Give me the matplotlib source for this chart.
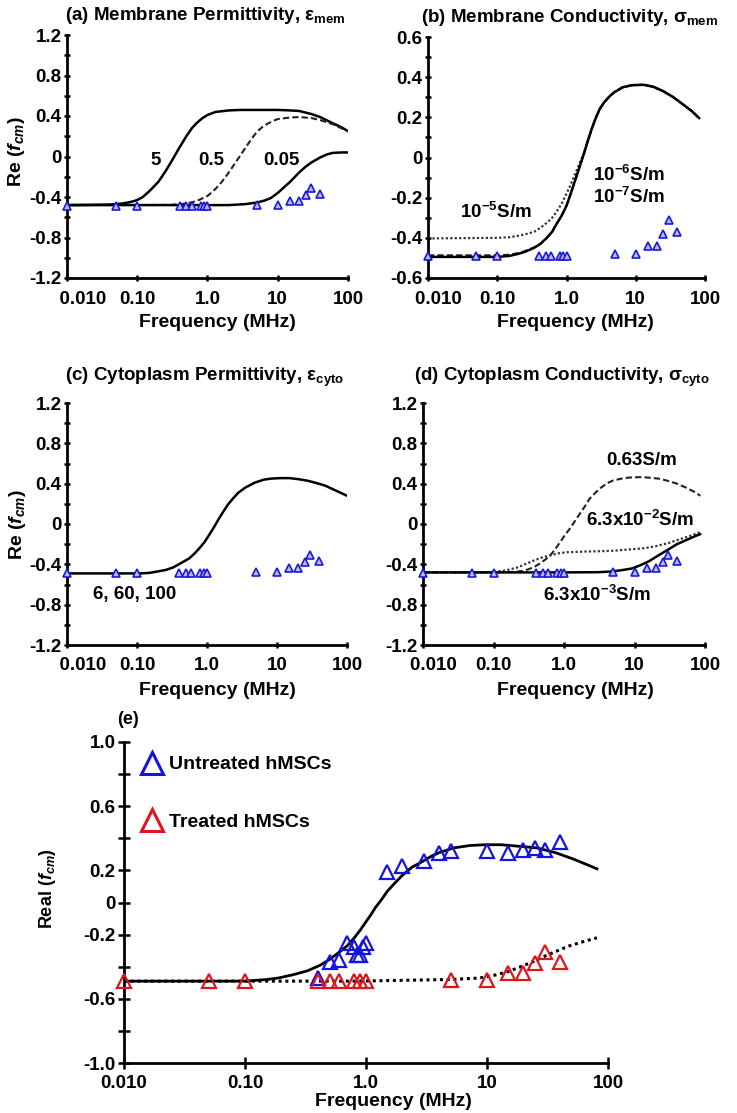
import matplotlib
matplotlib.use("Agg")
import matplotlib.pyplot as plt
from matplotlib.ticker import FixedLocator, FixedFormatter, NullLocator
from matplotlib.lines import Line2D

plt.rcParams['font.family'] = ['Liberation Sans', 'DejaVu Sans']
plt.rcParams['font.weight'] = 'bold'
plt.rcParams['mathtext.fontset'] = 'custom'
plt.rcParams['mathtext.rm'] = 'Liberation Sans:bold'
plt.rcParams['mathtext.it'] = 'Liberation Sans:italic:bold'
plt.rcParams['mathtext.bf'] = 'Liberation Sans:bold'
plt.rcParams['mathtext.default'] = 'rm'

# ---------------- data ----------------
# measured Re(fcm) (frequency in MHz)
freq_treated = [0.01, 0.05, 0.1, 0.4, 0.5, 0.6, 0.8, 0.9, 1.0, 5, 10, 15, 20, 25, 30, 40]
re_treated = [-0.49, -0.49, -0.49, -0.49, -0.49, -0.49, -0.49, -0.49, -0.49,
              -0.48, -0.48, -0.44, -0.44, -0.38, -0.31, -0.37]
freq_untreated = [0.4, 0.5, 0.6, 0.7, 0.8, 0.85, 0.9, 0.95, 1.0, 1.5, 2, 3, 4, 5,
                  10, 15, 20, 25, 30, 40]
re_untreated = [-0.47, -0.37, -0.36, -0.25, -0.28, -0.33, -0.33, -0.28, -0.25, 0.19,
                0.23, 0.26, 0.31, 0.32, 0.32, 0.31, 0.33, 0.34, 0.33, 0.375]

# (a) membrane permittivity model curves
fa_5 = [0.01, 0.04, 0.06, 0.08, 0.1, 0.12, 0.15, 0.2, 0.25, 0.3, 0.35, 0.4, 0.5, 0.6,
        0.7, 0.85, 1.0, 1.3, 2, 3, 10, 15, 20, 30, 40, 60, 80, 100]
ya_5 = [-0.48, -0.475, -0.465, -0.45, -0.43, -0.40, -0.34, -0.25, -0.15, -0.06, 0.02,
        0.09, 0.20, 0.28, 0.33, 0.38, 0.41, 0.44, 0.455, 0.46, 0.46, 0.455, 0.45, 0.42,
        0.39, 0.33, 0.29, 0.25]
fa_05 = [0.01, 0.3, 0.5, 0.7, 1.0, 1.3, 1.6, 2.0, 2.5, 3.0, 3.5, 4.2, 5, 6, 7, 8.5, 10,
         15, 20, 30, 40, 60, 80, 100]
ya_05 = [-0.48, -0.478, -0.465, -0.44, -0.39, -0.32, -0.25, -0.16, -0.06, 0.02, 0.09,
         0.17, 0.24, 0.29, 0.32, 0.35, 0.37, 0.385, 0.39, 0.38, 0.36, 0.32, 0.28, 0.25]
fa_005 = [0.01, 2, 3.5, 5, 6.5, 8, 10, 12, 15, 20, 25, 30, 40, 50, 60, 80, 100]
ya_005 = [-0.48, -0.48, -0.47, -0.455, -0.435, -0.41, -0.36, -0.31, -0.25, -0.16, -0.10,
          -0.06, -0.01, 0.02, 0.035, 0.04, 0.04]

# (b) membrane conductivity model curves
fb = [0.01, 0.1, 0.15, 0.2, 0.25, 0.34, 0.42, 0.52, 0.62, 0.72, 0.85, 1.0, 1.15, 1.3,
      1.5, 1.75, 2.0, 2.3, 2.6, 3.0, 3.5, 4.2, 4.9, 6.5, 8.8, 13, 18, 25, 35, 50, 65, 83]
yb_7 = [-0.495, -0.495, -0.49, -0.48, -0.47, -0.45, -0.43, -0.40, -0.37, -0.33, -0.29,
        -0.24, -0.18, -0.125, -0.06, 0.01, 0.075, 0.14, 0.19, 0.24, 0.275, 0.305, 0.325,
        0.35, 0.36, 0.362, 0.352, 0.33, 0.30, 0.26, 0.23, 0.195]
yb_6 = [-0.487, -0.487, -0.484, -0.476, -0.466, -0.448, -0.43, -0.40, -0.37, -0.33, -0.29,
        -0.24, -0.18, -0.125, -0.06, 0.01, 0.075, 0.14, 0.19, 0.24, 0.275, 0.305, 0.325,
        0.35, 0.36, 0.362, 0.352, 0.33, 0.30, 0.26, 0.23, 0.195]
yb_5 = [-0.403, -0.40, -0.397, -0.39, -0.383, -0.37, -0.35, -0.325, -0.30, -0.27, -0.23,
        -0.18, -0.135, -0.09, -0.04, 0.015, 0.078, 0.14, 0.19, 0.24, 0.275, 0.305, 0.325,
        0.35, 0.36, 0.362, 0.352, 0.33, 0.30, 0.26, 0.23, 0.195]

# (c) cytoplasm permittivity model curve (6, 60, 100 overlap)
fc = [0.01, 0.11, 0.15, 0.2, 0.26, 0.33, 0.42, 0.56, 0.67, 0.78, 0.92, 1.07, 1.25, 1.47,
      1.7, 2.0, 2.4, 2.8, 3.5, 4.8, 6.5, 8.2, 11, 15, 20, 27, 35, 49, 70, 100]
yc = [-0.49, -0.49, -0.485, -0.47, -0.455, -0.43, -0.39, -0.34, -0.29, -0.24, -0.18,
      -0.11, -0.035, 0.05, 0.12, 0.195, 0.26, 0.31, 0.36, 0.41, 0.44, 0.45, 0.455, 0.455,
      0.445, 0.43, 0.41, 0.38, 0.33, 0.28]

# (d) cytoplasm conductivity model curves
fd_063 = [0.01, 0.1, 0.2, 0.26, 0.31, 0.38, 0.46, 0.55, 0.64, 0.75, 0.88, 1.03, 1.2, 1.4,
          1.67, 2.0, 2.3, 2.7, 3.2, 4.0, 4.9, 6.5, 8.2, 12, 16, 22, 29, 40, 54, 70, 86]
yd_063 = [-0.48, -0.48, -0.475, -0.465, -0.45, -0.425, -0.39, -0.35, -0.31, -0.25, -0.18,
          -0.11, -0.05, 0.02, 0.10, 0.18, 0.25, 0.30, 0.35, 0.40, 0.43, 0.45, 0.46, 0.465,
          0.46, 0.45, 0.43, 0.40, 0.36, 0.32, 0.28]
fd_0063 = [0.01, 0.05, 0.1, 0.15, 0.22, 0.3, 0.38, 0.5, 0.64, 0.85, 1.1, 2, 3.2, 5, 9.3,
           14, 20, 30, 40, 60, 86]
yd_0063 = [-0.48, -0.48, -0.477, -0.46, -0.43, -0.39, -0.36, -0.33, -0.31, -0.29, -0.28,
           -0.273, -0.27, -0.265, -0.25, -0.24, -0.22, -0.19, -0.16, -0.12, -0.08]
fd_00063 = [0.01, 1, 3, 4.5, 5.5, 7, 9.3, 12, 16, 22, 29, 40, 54, 70, 86]
yd_00063 = [-0.48, -0.48, -0.478, -0.472, -0.465, -0.455, -0.44, -0.41, -0.37, -0.31,
            -0.26, -0.20, -0.16, -0.125, -0.10]

# (e) fitted curves
fe_un = [0.01, 0.1, 0.15, 0.19, 0.25, 0.33, 0.42, 0.5, 0.6, 0.7, 0.8, 0.9, 1.0, 1.1, 1.2,
         1.35, 1.5, 1.75, 2.0, 2.4, 3.0, 3.5, 4.0, 5.3, 7.2, 9.7, 13, 18.6, 26, 37, 52, 65, 81]
ye_un = [-0.49, -0.49, -0.48, -0.47, -0.45, -0.425, -0.39, -0.355, -0.31, -0.27, -0.22,
         -0.17, -0.12, -0.075, -0.03, 0.02, 0.07, 0.125, 0.17, 0.22, 0.26, 0.29, 0.31,
         0.34, 0.355, 0.36, 0.36, 0.35, 0.34, 0.31, 0.27, 0.24, 0.21]
fe_tr = [0.01, 0.8, 4.8, 8, 9.7, 12, 15, 19, 23, 32, 48, 65, 81]
ye_tr = [-0.49, -0.49, -0.48, -0.472, -0.465, -0.45, -0.43, -0.40, -0.375, -0.325, -0.27,
         -0.24, -0.22]

x_ticks = [0.01, 0.1, 1, 10, 100]

# ---------------- figure ----------------
W, H = 737, 1113
fig = plt.figure(figsize=(W / 100, H / 100), dpi=100)


def rect(x0, x1, y_top, y_bot):
    return [x0 / W, 1 - y_bot / H, (x1 - x0) / W, (y_bot - y_top) / H]


def style(ax, ylim, yticks, ylabels, yminor, first_pad, ticklen=4):
    ax.set_xscale('log')
    ax.set_xlim(0.01, 100)
    ax.set_ylim(*ylim)
    for s in ['top', 'right']:
        ax.spines[s].set_visible(False)
    for s in ['left', 'bottom']:
        ax.spines[s].set_linewidth(2.0)
    ax.xaxis.set_major_locator(FixedLocator(x_ticks))
    xl = [' ' * first_pad + '0.010', '0.10', '1.0', '10', '100']
    ax.xaxis.set_major_formatter(FixedFormatter(xl))
    ax.xaxis.set_minor_locator(NullLocator())
    ax.yaxis.set_major_locator(FixedLocator(yticks))
    ax.yaxis.set_major_formatter(FixedFormatter(ylabels))
    ax.yaxis.set_minor_locator(FixedLocator(yminor))
    ax.tick_params(axis='both', which='both', direction='inout', length=ticklen,
                   width=1.8, labelsize=13.5)
    ax.tick_params(axis='x', pad=7)
    ax.tick_params(axis='y', pad=2)
    ax.patch.set_visible(False)


def frequency_label(ax, x, y):
    ax.set_xlabel('Frequency (MHz)', fontsize=14, fontweight='bold')
    ax.xaxis.set_label_coords(x, y)
    ax.xaxis.label.set_va('center')


def re_label(ax, text, x, y, size=14):
    ax.set_ylabel(text, fontsize=size, fontweight='bold')
    ax.yaxis.set_label_coords(x, y)
    ax.yaxis.label.set_va('center')


def small_markers(ax):
    ax.plot(freq_treated, re_treated, ls='none', marker='^', ms=5.5, mec='#1a1ad6',
            mfc='#b8b8ff', mew=1.2, clip_on=False, zorder=5)


solid = dict(color='black', lw=1.8, solid_capstyle='round')
dashed = dict(color='#222222', lw=1.5, ls=(0, (3, 1.5)))
dotted = dict(color='#333333', lw=1.6, ls=(0, (1, 1)))

big_y = [-1.2, -0.8, -0.4, 0, 0.4, 0.8, 1.2]
big_yl = ['-1.2', '-0.8', '-0.4', '0', '0.4', '0.8', '1.2']
big_minor = [-1.0, -0.6, -0.2, 0.2, 0.6, 1.0]

# (a)
axa = fig.add_axes(rect(67, 348, 35, 278))
style(axa, (-1.2, 1.2), big_y, big_yl, big_minor, 6)
axa.plot(fa_5, ya_5, **solid)
axa.plot(fa_05, ya_05, **dashed)
axa.plot(fa_005, ya_005, **solid)
small_markers(axa)
for txt, fx in [('5', 0.184), ('0.5', 1.14), ('0.05', 11.4)]:
    axa.text(fx, -0.035, txt, fontsize=13.5, ha='center', va='center')
frequency_label(axa, 0.534, -0.185)
re_label(axa, r'Re ($\mathit{f_{cm}}$)', -0.178, 0.52)
fig.text(205 / W, 1 - 15 / H, r'(a) Membrane Permittivity, $\mathrm{ε}_{\mathrm{mem}}$',
         ha='center', va='center', fontsize=13.5)

# (b)
axb = fig.add_axes(rect(428, 705, 37, 278))
style(axb, (-0.6, 0.6), [-0.6, -0.4, -0.2, 0, 0.2, 0.4, 0.6],
      ['-0.6', '-0.4', '-0.2', '0', '0.2', '0.4', '0.6'],
      [-0.5, -0.3, -0.1, 0.1, 0.3, 0.5], 4)
axb.plot(fb, yb_5, **dotted)
axb.plot(fb, yb_6, **dashed)
axb.plot(fb, yb_7, **solid)
small_markers(axb)
axb.text(0.094, -0.27, r'10$^{-5}$S/m', fontsize=13.5, ha='center', va='center')
axb.text(7.9, -0.087, r'10$^{-6}$S/m', fontsize=13.5, ha='center', va='center')
axb.text(7.9, -0.197, r'10$^{-7}$S/m', fontsize=13.5, ha='center', va='center')
frequency_label(axb, 0.531, -0.185)
fig.text(569 / W, 1 - 17 / H, r'(b) Membrane Conductivity, $\mathrm{σ}_{\mathrm{mem}}$',
         ha='center', va='center', fontsize=13.5)

# (c)
axc = fig.add_axes(rect(67, 347, 403, 645))
style(axc, (-1.2, 1.2), big_y, big_yl, big_minor, 6)
axc.plot(fc, yc, **solid)
small_markers(axc)
axc.text(0.094, -0.70, '6, 60, 100', fontsize=13.5, ha='center', va='center')
frequency_label(axc, 0.536, -0.186)
re_label(axc, r'Re ($\mathit{f_{cm}}$)', -0.178, 0.496)
fig.text(205 / W, 1 - 377 / H, r'(c) Cytoplasm Permittivity, $\mathrm{ε}_{\mathrm{cyto}}$',
         ha='center', va='center', fontsize=13.5)

# (d)
axd = fig.add_axes(rect(423, 705, 403, 645))
style(axd, (-1.2, 1.2), big_y, big_yl, big_minor, 4)
axd.plot(fd_063, yd_063, **dashed)
axd.plot(fd_0063, yd_0063, **dotted)
axd.plot(fd_00063, yd_00063, **solid)
small_markers(axd)
axd.text(12.5, 0.63, '0.63S/m', fontsize=13.5, ha='center', va='center')
axd.text(12.2, 0.04, r'6.3x10$^{-2}$S/m', fontsize=13.5, ha='center', va='center')
axd.text(2.97, -0.70, r'6.3x10$^{-3}$S/m', fontsize=13.5, ha='center', va='center')
frequency_label(axd, 0.539, -0.186)
fig.text(562 / W, 1 - 377 / H, r'(d) Cytoplasm Conductivity, $\mathrm{σ}_{\mathrm{cyto}}$',
         ha='center', va='center', fontsize=13.5)

# (e)
axe = fig.add_axes(rect(124, 608, 742, 1063))
e_y = [-1.0, -0.8, -0.6, -0.4, -0.2, 0, 0.2, 0.4, 0.6, 0.8, 1.0]
e_yl = ['-1.0', '', '-0.6', '', '-0.2', '0', '0.2', '', '0.6', '', '1.0']
style(axe, (-1.0, 1.0), e_y, e_yl, [], 0, ticklen=8)
axe.tick_params(axis='x', pad=5)
axe.plot(fe_un, ye_un, color='black', lw=2.0)
axe.plot(fe_tr, ye_tr, color='black', lw=2.2, ls=(0, (1, 1.2)))
blue = '#1414e0'
red = '#e0141c'
axe.plot(freq_untreated, re_untreated, ls='none', marker='^', ms=9.5, mfc='none',
         mec=blue, mew=1.6, clip_on=False, zorder=5)
axe.plot(freq_treated, re_treated, ls='none', marker='^', ms=9.5, mfc='none',
         mec=red, mew=1.6, clip_on=False, zorder=5)
handles = [Line2D([], [], ls='none', marker='^', ms=16, mfc='none', mec=blue, mew=2.2),
           Line2D([], [], ls='none', marker='^', ms=16, mfc='none', mec=red, mew=2.2)]
axe.legend(handles, ['Untreated hMSCs', 'Treated hMSCs'], loc='upper left',
           bbox_to_anchor=(0.038, 0.957), frameon=False,
           handlelength=1.0, handletextpad=0.35, labelspacing=2.05,
           borderpad=0, borderaxespad=0, prop={'weight': 'bold', 'size': 14})
frequency_label(axe, 0.556, -0.121)
re_label(axe, r'Real ($\mathit{f_{cm}}$)', -0.159, 0.542, size=13)
fig.text(128 / W, 1 - 720 / H, '(e)', ha='center', va='center', fontsize=13)

fig.savefig('out.png', dpi=100)
